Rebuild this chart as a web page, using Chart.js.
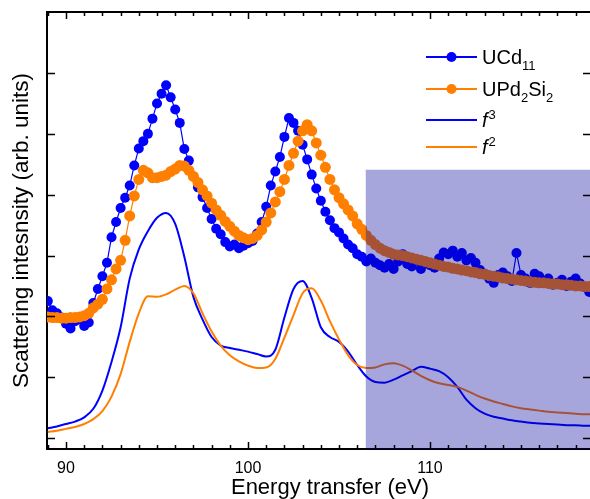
<!DOCTYPE html>
<html>
<head>
<meta charset="utf-8">
<script src="https://cdn.jsdelivr.net/npm/chart.js@4.4.1/dist/chart.umd.min.js"></script>
<style>
  html, body { margin: 0; padding: 0; background: #fff; overflow: hidden; }
</style>
</head>
<body>
<canvas id="rixs-chart" width="590" height="499"></canvas>
<script>
// measured energies (eV)
const energy = [
  89.00, 89.25, 89.50, 89.75, 90.00, 90.25, 90.50, 90.75, 91.00, 91.25,
  91.50, 91.75, 92.00, 92.25, 92.50, 92.75, 93.00, 93.25, 93.50, 93.75,
  94.00, 94.25, 94.50, 94.75, 95.00, 95.25, 95.50, 95.75, 96.00, 96.25,
  96.50, 96.75, 97.00, 97.25, 97.50, 97.75, 98.00, 98.25, 98.50, 98.75,
  99.00, 99.25, 99.50, 99.75, 100.00, 100.25, 100.50, 100.75, 101.00, 101.25,
  101.50, 101.75, 102.00, 102.25, 102.50, 102.75, 103.00, 103.25, 103.50, 103.75,
  104.00, 104.25, 104.50, 104.75, 105.00, 105.25, 105.50, 105.75, 106.00, 106.25,
  106.50, 106.75, 107.00, 107.25, 107.50, 107.75, 108.00, 108.25, 108.50, 108.75,
  109.00, 109.25, 109.50, 109.75, 110.00, 110.25, 110.50, 110.75, 111.00, 111.25,
  111.50, 111.75, 112.00, 112.25, 112.50, 112.75, 113.00, 113.25, 113.50, 113.75,
  114.00, 114.25, 114.50, 114.75, 115.00, 115.25, 115.50, 115.75, 116.00, 116.25,
  116.50, 116.75, 117.00, 117.25, 117.50, 117.75, 118.00, 118.25, 118.50, 118.75
];

const ucd11 = [
  2.25, 2.10, 2.05, 1.98, 1.88, 1.80, 1.92, 1.95, 1.84, 1.90,
  2.22, 2.45, 2.66, 2.88, 3.30, 3.55, 3.78, 3.95, 4.15, 4.48,
  4.76, 4.88, 5.00, 5.25, 5.50, 5.66, 5.80, 5.60, 5.40, 5.18,
  4.75, 4.56, 4.30, 4.12, 3.96, 3.78, 3.60, 3.44, 3.35, 3.22,
  3.15, 3.18, 3.12, 3.16, 3.20, 3.24, 3.36, 3.55, 3.80, 4.15,
  4.38, 4.62, 4.95, 5.26, 5.18, 5.05, 4.82, 4.58, 4.33, 4.10,
  3.90, 3.72, 3.58, 3.45, 3.38, 3.28, 3.18, 3.12, 3.02, 2.98,
  2.90, 2.95, 2.88, 2.84, 2.80, 2.86, 2.78, 2.90, 3.02, 2.86,
  2.82, 2.92, 2.78, 2.88, 2.84, 2.80, 2.95, 3.05, 3.02, 3.08,
  2.98, 3.04, 2.92, 2.96, 2.88, 2.76, 2.70, 2.62, 2.55, 2.68,
  2.72, 2.66, 2.58, 3.04, 2.68, 2.62, 2.55, 2.70, 2.66, 2.58,
  2.62, 2.52, 2.55, 2.60, 2.50, 2.57, 2.62, 2.54, 2.48, 2.40
];

const upd2si2 = [
  1.99, 1.98, 1.98, 1.97, 1.97, 1.98, 1.98, 1.99, 2.01, 2.05,
  2.14, 2.20, 2.28, 2.45, 2.60, 2.78, 2.92, 3.25, 3.65, 3.98,
  4.25, 4.40, 4.36, 4.28, 4.28, 4.30, 4.32, 4.38, 4.42, 4.48,
  4.47, 4.40, 4.30, 4.20, 4.08, 3.98, 3.86, 3.75, 3.66, 3.56,
  3.48, 3.40, 3.33, 3.29, 3.26, 3.28, 3.33, 3.42, 3.55, 3.70,
  3.88, 4.05, 4.25, 4.48, 4.68, 4.88, 5.05, 5.15, 5.05, 4.85,
  4.65, 4.45, 4.25, 4.08, 3.95, 3.85, 3.75, 3.65, 3.52, 3.43,
  3.33, 3.25, 3.18, 3.12, 3.08, 3.05, 3.02, 3.01, 3.00, 2.98,
  2.96, 2.94, 2.92, 2.90, 2.88, 2.86, 2.84, 2.82, 2.81, 2.79,
  2.78, 2.76, 2.75, 2.73, 2.72, 2.70, 2.69, 2.67, 2.66, 2.65,
  2.63, 2.62, 2.61, 2.60, 2.59, 2.58, 2.57, 2.56, 2.55, 2.55,
  2.54, 2.53, 2.53, 2.52, 2.52, 2.51, 2.50, 2.50, 2.49, 2.49
];

// calculated spectra
const calcEnergy = [
  89.0, 89.5, 90.0, 90.5, 91.0, 91.5, 92.0, 92.5, 93.0, 93.5,
  94.0, 94.5, 95.0, 95.5, 96.0, 96.5, 97.0, 97.5, 98.0, 98.5,
  99.0, 99.5, 100.0, 100.5, 101.0, 101.5, 102.0, 102.5, 103.0, 103.5,
  104.0, 104.5, 105.0, 105.5, 106.0, 106.5, 107.0, 107.5, 108.0, 108.5,
  109.0, 109.5, 110.0, 110.5, 111.0, 111.5, 112.0, 112.5, 113.0, 113.5,
  114.0, 114.5, 115.0, 115.5, 116.0, 116.5, 117.0, 117.5, 118.0, 118.5, 119.0
];

const f3Calc = [
  0.16, 0.19, 0.23, 0.27, 0.34, 0.48, 0.78, 1.25, 1.82, 2.62,
  3.10, 3.40, 3.62, 3.70, 3.52, 2.98, 2.32, 1.95, 1.66, 1.52,
  1.48, 1.45, 1.42, 1.38, 1.34, 1.45, 1.98, 2.45, 2.58, 2.30,
  1.82, 1.66, 1.58, 1.42, 1.20, 1.01, 0.92, 0.91, 0.96, 1.03,
  1.10, 1.17, 1.14, 1.10, 1.00, 0.84, 0.63, 0.49, 0.40, 0.35,
  0.32, 0.29, 0.27, 0.25, 0.24, 0.23, 0.22, 0.21, 0.21, 0.20, 0.20
];

const f2Calc = [
  0.10, 0.12, 0.15, 0.18, 0.23, 0.31, 0.44, 0.68, 1.05, 1.58,
  2.05, 2.33, 2.32, 2.36, 2.44, 2.50, 2.38, 2.05, 1.75, 1.52,
  1.36, 1.26, 1.19, 1.15, 1.16, 1.30, 1.65, 2.02, 2.38, 2.46,
  2.26, 1.92, 1.62, 1.36, 1.20, 1.15, 1.16, 1.21, 1.23, 1.19,
  1.11, 1.02, 0.95, 0.90, 0.87, 0.84, 0.78, 0.71, 0.65, 0.60,
  0.56, 0.52, 0.49, 0.47, 0.45, 0.43, 0.42, 0.41, 0.40, 0.39, 0.39
];

const xMajorTicks = [90, 100, 110];
const yTicks = [0, 1, 2, 3, 4, 5, 6];

// shaded window (eV from, intensity top)
const shadeFrom = 106.47;
const shadeTop = 4.41;

// legend text: [text, style]
const legendLabels = [
  [['UCd', ''], ['11', 'sub']],
  [['UPd', ''], ['2', 'sub'], ['Si', ''], ['2', 'sub']],
  [['f', 'it'], ['3', 'sup']],
  [['f', 'it'], ['2', 'sup']],
];

const FONT = "'Liberation Sans', Arial, sans-serif";
const BLUE = '#0000ff';
const ORANGE = '#ff7f00';

const toXY = (xs, ys) => xs.map((x, i) => ({ x: x, y: ys[i] }));

function drawRich(ctx, parts, x, baseY) {
  parts.forEach(([t, style]) => {
    let size = 20, dy = 0, font = '';
    if (style === 'sub') { size = 13; dy = 6; }
    if (style === 'sup') { size = 13; dy = -8; x += 1; }
    if (style === 'it') font = 'italic ';
    ctx.font = font + size + 'px ' + FONT;
    ctx.fillText(t, x, baseY + dy);
    x += ctx.measureText(t).width;
  });
}

const noPad = (s) => {
  s.paddingLeft = 0;
  s.paddingRight = 0;
  s.paddingTop = 0;
  s.paddingBottom = 0;
};

const frame = {
  id: 'frame',
  afterDatasetsDraw(chart) {
    const { ctx, chartArea: a, scales: { x, y } } = chart;
    const left = x.getPixelForValue(shadeFrom);
    const top = y.getPixelForValue(shadeTop);
    ctx.save();
    ctx.fillStyle = 'rgba(0, 0, 157, 0.35)';
    ctx.fillRect(left, top, a.right - left, a.bottom - top);
    ctx.restore();
  },
  afterDraw(chart) {
    const { ctx, chartArea: a, scales: { x, y } } = chart;
    ctx.save();
    ctx.strokeStyle = '#000';
    // top frame line
    ctx.lineWidth = 2;
    ctx.beginPath();
    ctx.moveTo(a.left, a.top);
    ctx.lineTo(a.right, a.top);
    ctx.stroke();

    // inward ticks
    ctx.lineWidth = 1.5;
    ctx.beginPath();
    for (let v = Math.ceil(x.min); v <= x.max; v++) {
      const px = Math.round(x.getPixelForValue(v)) + 0.5;
      const len = xMajorTicks.includes(v) ? 7 : 4;
      ctx.moveTo(px, a.bottom);
      ctx.lineTo(px, a.bottom - len);
      ctx.moveTo(px, a.top);
      ctx.lineTo(px, a.top + len);
    }
    yTicks.forEach(v => {
      const py = Math.round(y.getPixelForValue(v)) + 0.5;
      ctx.moveTo(a.left, py);
      ctx.lineTo(a.left + 8, py);
      ctx.moveTo(a.right, py);
      ctx.lineTo(a.right - 7, py);
    });
    ctx.stroke();

    // legend
    const rows = [57, 89, 120, 147];
    ctx.fillStyle = '#000';
    ctx.textBaseline = 'alphabetic';
    ctx.textAlign = 'left';
    legendLabels.forEach((parts, i) => {
      const ds = chart.data.datasets[i];
      const ly = rows[i];
      ctx.strokeStyle = ds.borderColor;
      ctx.lineWidth = 2;
      ctx.beginPath();
      ctx.moveTo(426, ly);
      ctx.lineTo(477, ly);
      ctx.stroke();
      if (ds.pointRadius > 0) {
        ctx.fillStyle = ds.borderColor;
        ctx.beginPath();
        ctx.arc(451.5, ly, 5, 0, Math.PI * 2);
        ctx.fill();
      }
      ctx.fillStyle = '#000';
      drawRich(ctx, parts, 482, ly + 7);
    });

    // x axis title
    ctx.font = '22px ' + FONT;
    ctx.textAlign = 'center';
    ctx.textBaseline = 'middle';
    ctx.fillText('Energy transfer (eV)', 330, 488);
    ctx.restore();
  }
};

new Chart(document.getElementById('rixs-chart'), {
  type: 'line',
  data: {
    datasets: [
      {
        label: 'UCd11',
        data: toXY(energy, ucd11),
        borderColor: BLUE,
        backgroundColor: BLUE,
        borderWidth: 1.2,
        pointRadius: 5,
        pointBorderWidth: 0,
        pointBackgroundColor: BLUE,
        tension: 0,
        order: 1,
      },
      {
        label: 'UPd2Si2',
        data: toXY(energy, upd2si2),
        borderColor: ORANGE,
        backgroundColor: ORANGE,
        borderWidth: 1.2,
        pointRadius: 5.5,
        pointBorderWidth: 0,
        pointBackgroundColor: ORANGE,
        tension: 0,
        order: 0,
      },
      {
        label: 'f3',
        data: toXY(calcEnergy, f3Calc),
        borderColor: BLUE,
        borderWidth: 2,
        pointRadius: 0,
        cubicInterpolationMode: 'monotone',
        order: 3,
      },
      {
        label: 'f2',
        data: toXY(calcEnergy, f2Calc),
        borderColor: ORANGE,
        borderWidth: 2,
        pointRadius: 0,
        cubicInterpolationMode: 'monotone',
        order: 2,
      },
    ],
  },
  options: {
    responsive: false,
    animation: false,
    devicePixelRatio: 1,
    layout: { autoPadding: false, padding: { top: 12, right: 0, left: 0, bottom: 0 } },
    scales: {
      x: {
        type: 'linear',
        position: 'bottom',
        min: 88.956,
        max: 118.79,
        afterFit: (s) => { s.height = 50; noPad(s); },
        afterBuildTicks: (s) => { s.ticks = xMajorTicks.map(v => ({ value: v })); },
        grid: { display: false, drawTicks: false },
        border: { display: true, color: '#000', width: 2 },
        ticks: {
          autoSkip: false,
          maxRotation: 0,
          padding: 10,
          color: '#000',
          font: { size: 16, family: FONT },
        },
      },
      y: {
        min: -0.181,
        max: 7.003,
        afterFit: (s) => { s.width = 47; noPad(s); },
        afterBuildTicks: (s) => { s.ticks = yTicks.map(v => ({ value: v })); },
        grid: { display: false, drawTicks: false },
        border: { display: true, color: '#000', width: 2 },
        ticks: { display: false },
        title: {
          display: true,
          text: 'Scattering intesnsity (arb. units)',
          color: '#000',
          font: { size: 22.5, family: FONT },
          padding: { top: 8, bottom: 0 },
        },
      },
    },
    plugins: {
      legend: { display: false },
      tooltip: { enabled: false },
    },
  },
  plugins: [frame],
});
</script>
</body>
</html>
